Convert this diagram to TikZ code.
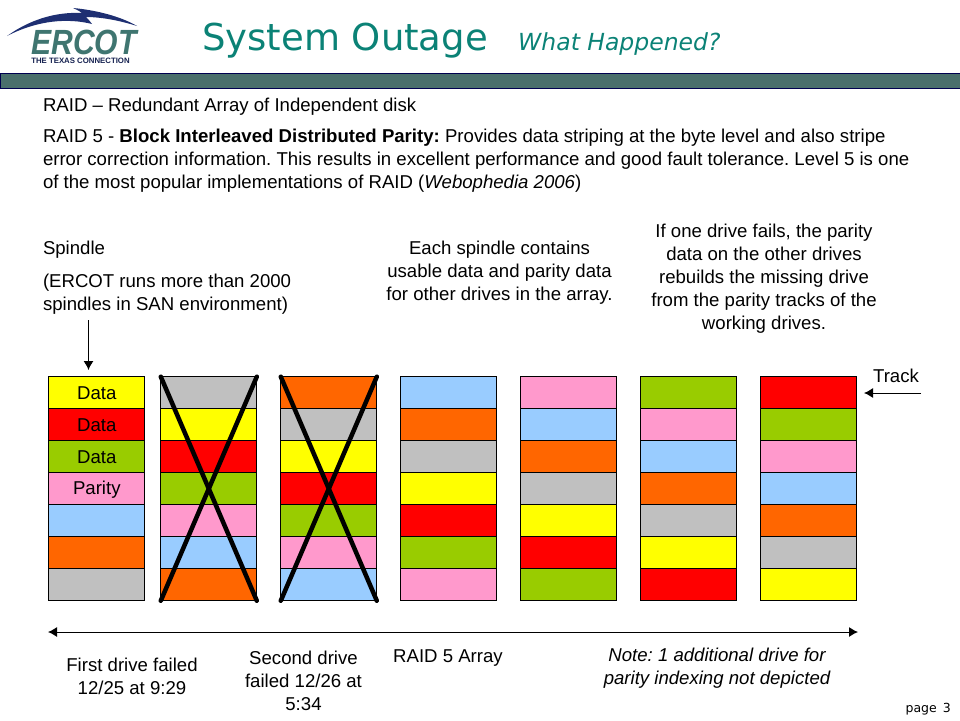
\documentclass[tikz,border=0pt]{standalone}
\usepackage{fontspec}
\setmainfont{Liberation Sans}
\newfontfamily\verd{DejaVu Sans}
\usetikzlibrary{arrows.meta}
\definecolor{cY}{HTML}{FFFF00}
\definecolor{cR}{HTML}{FF0000}
\definecolor{cG}{HTML}{99CC00}
\definecolor{cP}{HTML}{FF99CC}
\definecolor{cB}{HTML}{99CCFF}
\definecolor{cO}{HTML}{FF6600}
\definecolor{cS}{HTML}{C0C0C0}
\definecolor{teal1}{HTML}{0B8276}
\definecolor{barfill}{HTML}{4A6F6C}
\definecolor{navy1}{HTML}{000050}
\definecolor{logoblue}{HTML}{1E2F72}
\definecolor{logogreen}{HTML}{3F7570}
\tikzset{
 x=1pt,y=-1pt,
 cell/.style={draw=black,line width=1pt,minimum width=96pt,minimum height=32pt,inner sep=0pt,outer sep=0pt},
 celltext/.style={font=\fontsize{18.6}{20}\selectfont,inner sep=0pt},
 body/.style={font=\fontsize{18.6}{23}\selectfont,inner sep=0pt,outer sep=0pt},
 lab/.style={body,align=center},
 thinarrow/.style={line width=1pt,-{Latex[length=9pt,width=10pt]}},
 cross/.style={line width=4.5pt,line cap=round},
}
\begin{document}
\frenchspacing
\begin{tikzpicture}
\useasboundingbox (0,0) rectangle (960,720);
% logo
\fill[logoblue] (7,36) .. controls (35,16) and (62,12) .. (82,13) .. controls (78,10) and (75,9) .. (73,8) .. controls (95,10) and (120,16) .. (137,26) .. controls (118,20) and (100,17) .. (86,17) .. controls (88,19) and (90,21) .. (92,24) .. controls (68,18) and (38,20) .. (7,36) -- cycle;
\node[anchor=base,inner sep=0pt,text=logogreen,font=\fontsize{35}{35}\bfseries\itshape\selectfont] (logo) at (84,54) {\scalebox{.86}[1]{ERCOT}};
\node[anchor=center,inner sep=0pt,text=logoblue!70!black,font=\fontsize{7.8}{9}\bfseries\selectfont] (logosub) at (80.5,60.5) {THE TEXAS CONNECTION};
% title
\node[anchor=base west,inner sep=0pt,text=teal1,font=\verd\fontsize{37}{40}\selectfont] (title) at (202,50) {System Outage};
\node[anchor=base west,inner sep=0pt,text=teal1,font=\verd\itshape\fontsize{23.5}{26}\selectfont] (subtitle) at (518,50) {What Happened?};
\draw[draw=navy1,fill=barfill,line width=1pt] (0.5,73) rectangle (960,88.5);
% top text
\node[body,anchor=base west] (t1) at (43,111) {RAID – Redundant Array of Independent disk};
\node[body,anchor=west,align=left] (t2) at (43,161) {RAID 5 - \textbf{Block Interleaved Distributed Parity:} Provides data striping at the byte level and also stripe\\error correction information. This results in excellent performance and good fault tolerance. Level 5 is one\\of the most popular implementations of RAID (\textit{Webophedia 2006})};
\node[body,anchor=base west] (t3) at (43,254) {Spindle};
\node[body,anchor=west,align=left] (t4) at (43,294) {(ERCOT runs more than 2000\\spindles in SAN environment)};
\node[lab] (t5) at (499.5,272.5) {Each spindle contains\\usable data and parity data\\for other drives in the array.};
\node[lab] (t6) at (764,278.5) {If one drive fails, the parity\\data on the other drives\\rebuilds the missing drive\\from the parity tracks of the\\working drives.};
\node[lab,anchor=base] (track) at (896,382) {Track};
% cells
\foreach \c/\xx/\seq in {1/96.8/{cY,cR,cG,cP,cB,cO,cS},2/208.8/{cS,cY,cR,cG,cP,cB,cO},3/328.8/{cO,cS,cY,cR,cG,cP,cB},4/448.8/{cB,cO,cS,cY,cR,cG,cP},5/568.8/{cP,cB,cO,cS,cY,cR,cG},6/688.8/{cG,cP,cB,cO,cS,cY,cR},7/808.8/{cR,cG,cP,cB,cO,cS,cY}}{
  \foreach \col [count=\r] in \seq {
    \node[cell,fill=\col] (c\c r\r) at (\xx,{360.7+32*\r}) {};
  }
}
\node[celltext] (d1) at (c1r1) {Data};
\node[celltext] (d2) at (c1r2) {Data};
\node[celltext] (d3) at (c1r3) {Data};
\node[celltext] (d4) at ([yshift=-0.5pt]c1r4) {Parity};
% crosses
\draw[cross] (c2r1.north west) -- (c2r7.south east);
\draw[cross] (c2r1.north east) -- (c2r7.south west);
\draw[cross] (c3r1.north west) -- (c3r7.south east);
\draw[cross] (c3r1.north east) -- (c3r7.south west);
% arrows
\coordinate (spa) at (88.5,320);
\coordinate (spb) at (88.5,370);
\draw[thinarrow] (spa) -- (spb);
\coordinate (tra) at (921,393);
\coordinate (trb) at (864,393);
\draw[thinarrow] (tra) -- (trb);
\coordinate (al) at (48,632);
\coordinate (ar) at (858,632);
\draw[line width=1pt,{Latex[length=9pt,width=10pt]}-{Latex[length=9pt,width=10pt]}] (al) -- (ar);
% bottom
\node[lab] (b1) at (132,676) {First drive failed\\12/25 at 9:29};
\node[lab] (b2) at (303.5,681) {Second drive\\failed 12/26 at\\5:34};
\node[lab,anchor=base] (b3) at (448,662) {RAID 5 Array};
\node[lab,font=\itshape\fontsize{18.6}{23}\selectfont] (b4) at (717,668.5) {Note: 1 additional drive for\\parity indexing not depicted};
\node[anchor=base east,inner sep=0pt,font=\verd\fontsize{12.5}{14}\selectfont] (pg) at (951,712) {page\hspace{6pt}3};
\end{tikzpicture}
\end{document}
